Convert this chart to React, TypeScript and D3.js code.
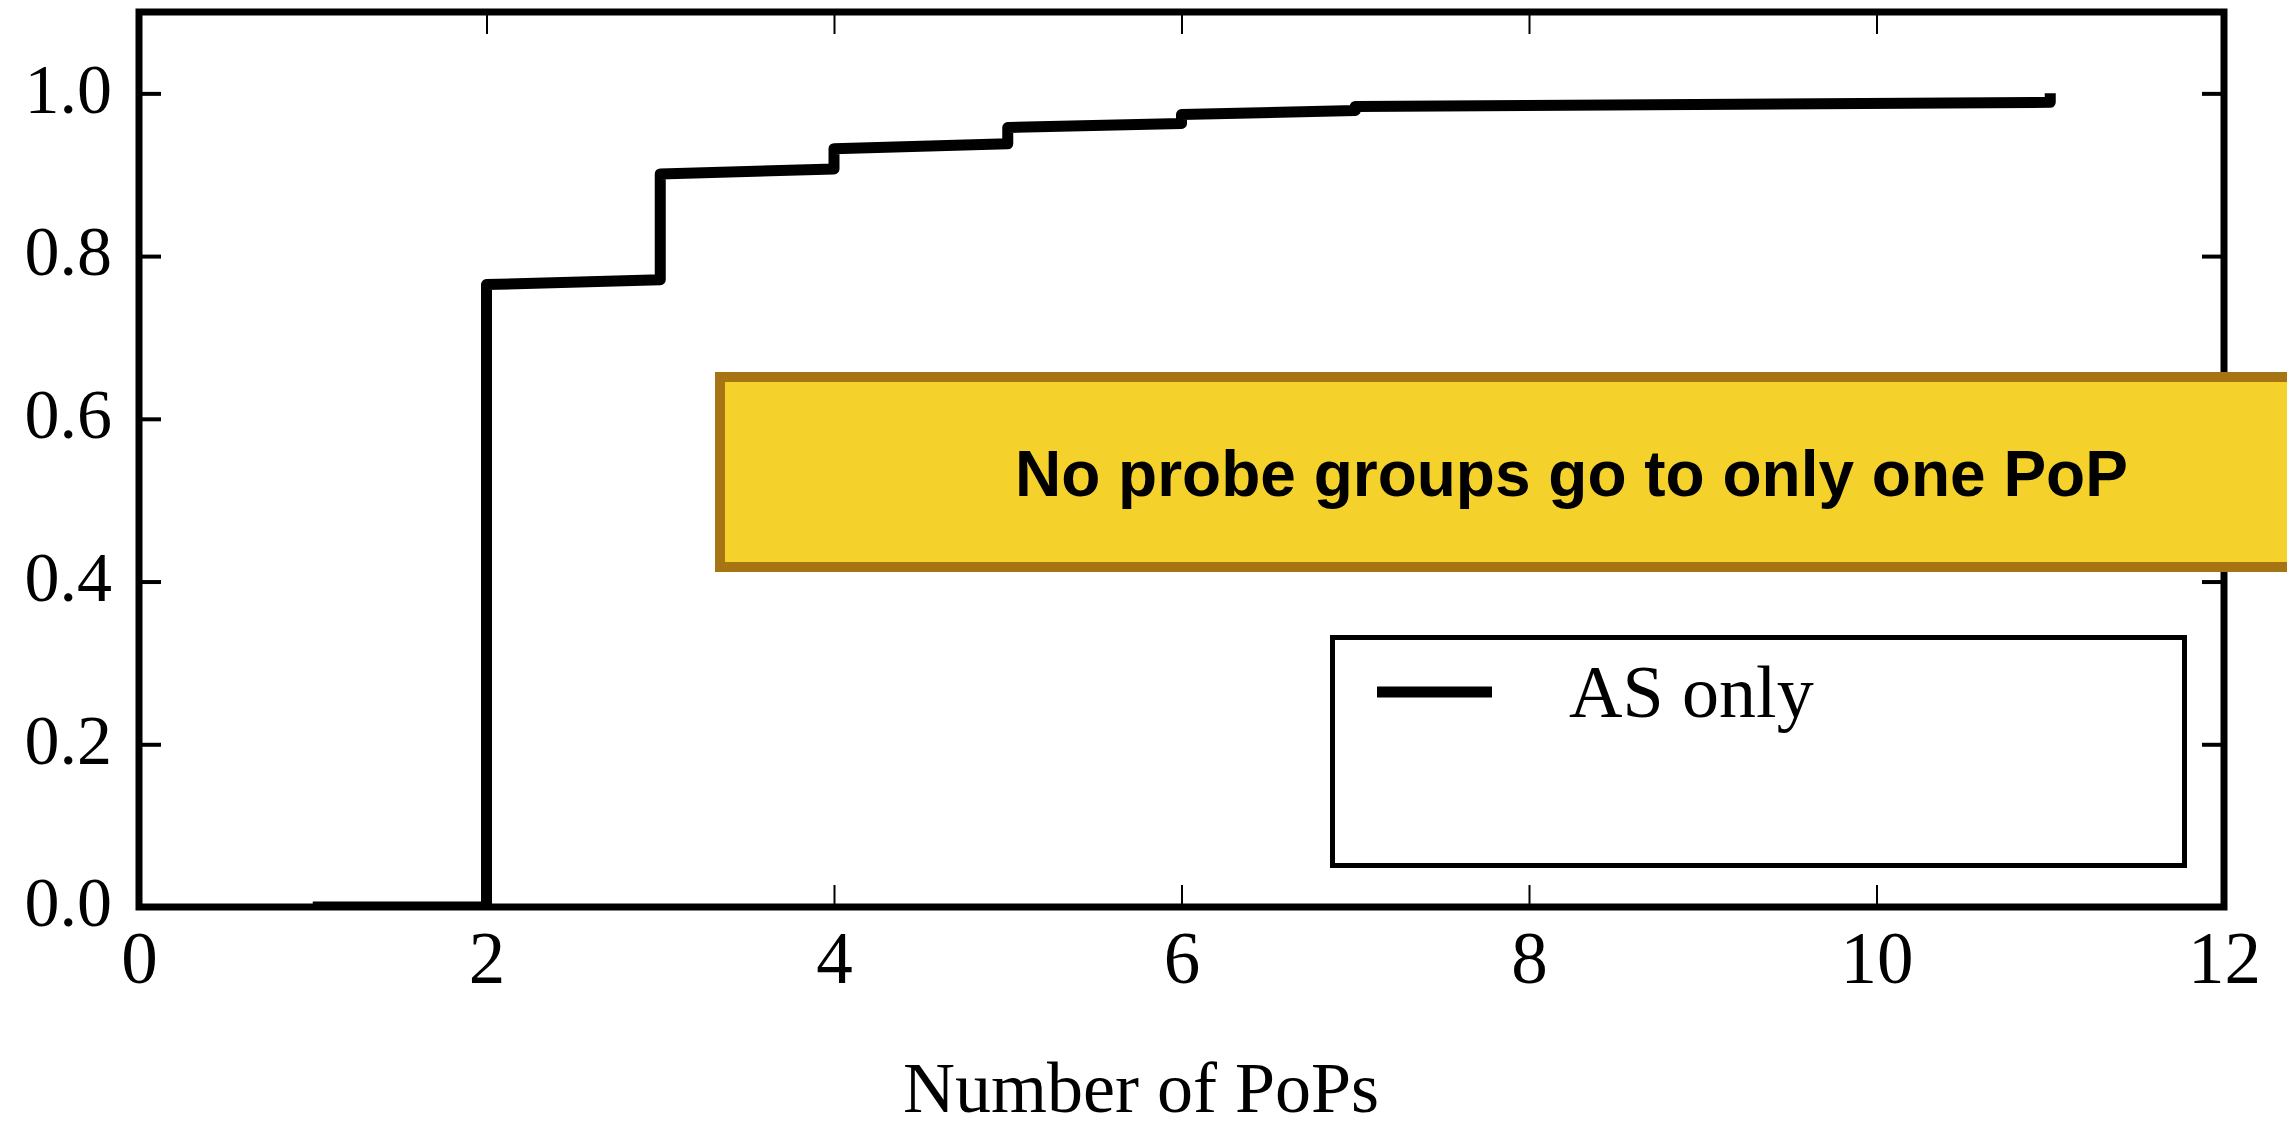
import React, { useEffect, useRef } from 'react';
import * as d3 from 'd3';

// CDF of number of PoPs per probe group (AS only)
const pops = [1, 2, 2, 3, 3, 4, 4, 5, 5, 6, 6, 7, 7, 11, 11];
const cdfAsOnly = [0, 0, 0.765, 0.771, 0.901, 0.907, 0.932, 0.938, 0.958, 0.963, 0.974, 0.979, 0.984, 0.989, 1.0];

const xTicks = [0, 2, 4, 6, 8, 10, 12];
const yTicks = [0, 0.2, 0.4, 0.6, 0.8, 1.0];
const seriesLabel = 'AS only';
const xLabel = 'Number of PoPs';
const note = 'No probe groups go to only one PoP';

const W = 2287;
const H = 1129;
const margin = { top: 12, right: 63, bottom: 222, left: 139 };
const serif = '"Liberation Serif", "Times New Roman", Times, serif';
const sans = '"Liberation Sans", Arial, Helvetica, sans-serif';

export default function App() {
  const ref = useRef<SVGSVGElement>(null);

  useEffect(() => {
    const svg = d3.select(ref.current);
    svg.selectAll('*').remove();

    const width = W - margin.left - margin.right;
    const height = H - margin.top - margin.bottom;

    const x = d3.scaleLinear().domain([0, 12]).range([0, width]);
    const y = d3.scaleLinear().domain([0, 1.1]).range([height, 0]);

    const g = svg
      .append('g')
      .attr('transform', `translate(${margin.left},${margin.top})`);

    g.append('clipPath')
      .attr('id', 'plot-clip')
      .append('rect')
      .attr('width', width)
      .attr('height', height);

    // data line
    const line = d3
      .line<number>()
      .x((d, i) => x(pops[i]))
      .y(d => y(d));

    g.append('path')
      .datum(cdfAsOnly)
      .attr('d', line)
      .attr('fill', 'none')
      .attr('stroke', '#000')
      .attr('stroke-width', 11)
      .attr('stroke-linejoin', 'round')
      .attr('clip-path', 'url(#plot-clip)');

    // x axes (bottom with labels, top ticks only)
    const xBottom = g
      .append('g')
      .attr('transform', `translate(0,${height})`)
      .call(
        d3.axisBottom(x).tickValues(xTicks).tickSizeInner(-22).tickSizeOuter(0).tickFormat(d3.format('d'))
      );
    xBottom.select('.domain').remove();
    xBottom.selectAll('line').attr('stroke', '#000').attr('stroke-width', 2);
    xBottom
      .selectAll('text')
      .attr('y', 76)
      .attr('dy', 0)
      .attr('fill', '#000')
      .style('font-size', '73px')
      .style('font-family', serif);

    const xTop = g
      .append('g')
      .call(d3.axisTop(x).tickValues(xTicks).tickSizeInner(-22).tickSizeOuter(0).tickFormat(() => ''));
    xTop.select('.domain').remove();
    xTop.selectAll('line').attr('stroke', '#000').attr('stroke-width', 2);

    // y axes (left with labels, right ticks only)
    const yLeft = g
      .append('g')
      .call(
        d3.axisLeft(y).tickValues(yTicks).tickSizeInner(-22).tickSizeOuter(0).tickFormat(d3.format('.1f'))
      );
    yLeft.select('.domain').remove();
    yLeft.selectAll('line').attr('stroke', '#000').attr('stroke-width', 4);
    yLeft
      .selectAll('text')
      .attr('x', -27)
      .attr('dy', '0.27em')
      .attr('fill', '#000')
      .style('font-size', '70px')
      .style('font-family', serif);

    const yRight = g
      .append('g')
      .attr('transform', `translate(${width},0)`)
      .call(d3.axisRight(y).tickValues(yTicks).tickSizeInner(-22).tickSizeOuter(0).tickFormat(() => ''));
    yRight.select('.domain').remove();
    yRight.selectAll('line').attr('stroke', '#000').attr('stroke-width', 4);

    // spines
    g.append('rect')
      .attr('width', width)
      .attr('height', height)
      .attr('fill', 'none')
      .attr('stroke', '#000')
      .attr('stroke-width', 7);

    // legend
    const legend = g.append('g').attr('class', 'legend');
    legend
      .append('rect')
      .attr('x', 1193.5)
      .attr('y', 625.5)
      .attr('width', 852)
      .attr('height', 228)
      .attr('fill', '#fff')
      .attr('stroke', '#000')
      .attr('stroke-width', 5);
    legend
      .append('line')
      .attr('x1', 1238)
      .attr('x2', 1353)
      .attr('y1', 680)
      .attr('y2', 680)
      .attr('stroke', '#000')
      .attr('stroke-width', 11);
    legend
      .append('text')
      .attr('x', 1430)
      .attr('y', 705)
      .attr('fill', '#000')
      .style('font-size', '74px')
      .style('font-family', serif)
      .text(seriesLabel);

    // x label
    svg
      .append('text')
      .attr('x', 1141)
      .attr('y', 1112)
      .attr('text-anchor', 'middle')
      .attr('fill', '#000')
      .style('font-size', '72px')
      .style('font-family', serif)
      .text(xLabel);

    // annotation box
    svg
      .append('rect')
      .attr('x', 720)
      .attr('y', 377)
      .attr('width', 1700)
      .attr('height', 190)
      .attr('fill', '#f5d22b')
      .attr('stroke', '#a77414')
      .attr('stroke-width', 10);
    svg
      .append('text')
      .attr('x', 1015)
      .attr('y', 496)
      .attr('fill', '#000')
      .style('font-size', '64px')
      .style('font-weight', 'bold')
      .style('font-family', sans)
      .text(note);
  }, []);

  return (
    <svg
      ref={ref}
      width={W}
      height={H}
      style={{ position: 'absolute', left: 0, top: 0, display: 'block', background: '#fff' }}
    />
  );
}
